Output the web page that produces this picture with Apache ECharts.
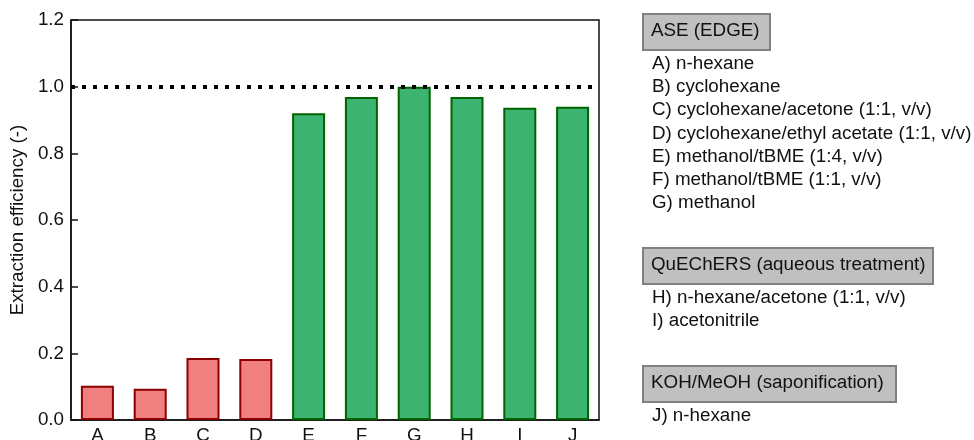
<!DOCTYPE html>
<html>
<head>
<meta charset="utf-8">
<script src="https://cdn.jsdelivr.net/npm/echarts@6/dist/echarts.min.js"></script>
<style>
  html, body { margin: 0; padding: 0; background: #fff; }
  #chart { width: 974px; height: 440px; }
</style>
</head>
<body>
<div id="chart"></div>
<script>
// Extraction efficiency per extraction method / solvent
var categories = ['A', 'B', 'C', 'D', 'E', 'F', 'G', 'H', 'I', 'J'];
var efficiency = [0.103, 0.094, 0.186, 0.183, 0.920, 0.969, 1.000, 0.969, 0.937, 0.940];
var yTicks = [0, 0.2, 0.4, 0.6, 0.8, 1.0, 1.2];
var referenceLevel = 1.0;

// Method groups and the solvent key listed under each
var groupTitles = ['ASE (EDGE)', 'QuEChERS (aqueous treatment)', 'KOH/MeOH (saponification)'];
var groupItems = [
  ['A) n-hexane', 'B) cyclohexane', 'C) cyclohexane/acetone (1:1, v/v)',
   'D) cyclohexane/ethyl acetate (1:1, v/v)', 'E) methanol/tBME (1:4, v/v)',
   'F) methanol/tBME (1:1, v/v)', 'G) methanol'],
  ['H) n-hexane/acetone (1:1, v/v)', 'I) acetonitrile'],
  ['J) n-hexane']
];

var FONT = '"Liberation Sans", Arial, sans-serif';
var FS = 18.8;
var chart = echarts.init(document.getElementById('chart'), null, { renderer: 'canvas' });

// Side key: grey title boxes followed by item lines
var graphics = [];
var boxTops = [13, 247, 365];
var boxWidths = [127, 290, 253];
var boxHeight = 36;
var lineGap = 23.3;
groupTitles.forEach(function (title, g) {
  var top = boxTops[g];
  graphics.push({
    type: 'rect',
    left: 642, top: top,
    shape: { width: boxWidths[g], height: boxHeight },
    style: { fill: '#c0c0c0', stroke: '#808080', lineWidth: 2 }
  });
  graphics.push({
    type: 'text',
    x: 651, y: top + boxHeight / 2,
    style: { text: title, font: FS + 'px ' + FONT, fill: '#111', verticalAlign: 'middle' }
  });
  groupItems[g].forEach(function (item, i) {
    graphics.push({
      type: 'text',
      x: 652, y: top + 50.5 + i * lineGap,
      style: { text: item, font: FS + 'px ' + FONT, fill: '#111', verticalAlign: 'middle' }
    });
  });
});

chart.setOption({
  animation: false,
  backgroundColor: '#fff',
  textStyle: { fontFamily: FONT },
  grid: {
    left: 71, top: 20, width: 528, height: 400,
    outerBoundsMode: 'none',
    show: true, borderColor: '#111', borderWidth: 1.5, backgroundColor: 'transparent'
  },
  xAxis: {
    type: 'category',
    data: categories,
    axisLine: { lineStyle: { color: '#111', width: 1.5 } },
    axisTick: { inside: true, alignWithLabel: true, length: 7, lineStyle: { color: '#111', width: 1.5 } },
    axisLabel: { color: '#111', fontSize: FS, margin: 6 }
  },
  yAxis: {
    type: 'value',
    min: yTicks[0], max: yTicks[yTicks.length - 1], interval: 0.2,
    name: 'Extraction efficiency (-)',
    nameLocation: 'middle', nameGap: 43,
    nameTextStyle: { color: '#111', fontSize: FS },
    axisLine: { show: true, lineStyle: { color: '#111', width: 1.5 } },
    axisTick: { show: true, inside: true, length: 7, lineStyle: { color: '#111', width: 1.5 } },
    axisLabel: { color: '#111', fontSize: FS, margin: 7, formatter: function (v) { return v.toFixed(1); } },
    splitLine: { show: false }
  },
  series: [{
    type: 'bar',
    data: efficiency.map(function (v) {
      // low-yield solvents in red, high-yield in green, each with a dark outline
      var low = v < 0.5;
      return {
        value: v,
        itemStyle: {
          color: low ? '#f08080' : '#3cb371',
          borderColor: low ? '#8b0000' : '#006400'
        }
      };
    }),
    barWidth: '62.5%',
    itemStyle: { borderWidth: 2 },
    markLine: {
      silent: true,
      symbol: 'none',
      label: { show: false },
      lineStyle: { color: '#000', type: [4, 7], width: 4 },
      data: [{ yAxis: referenceLevel }]
    }
  }],
  graphic: graphics
});
</script>
</body>
</html>
